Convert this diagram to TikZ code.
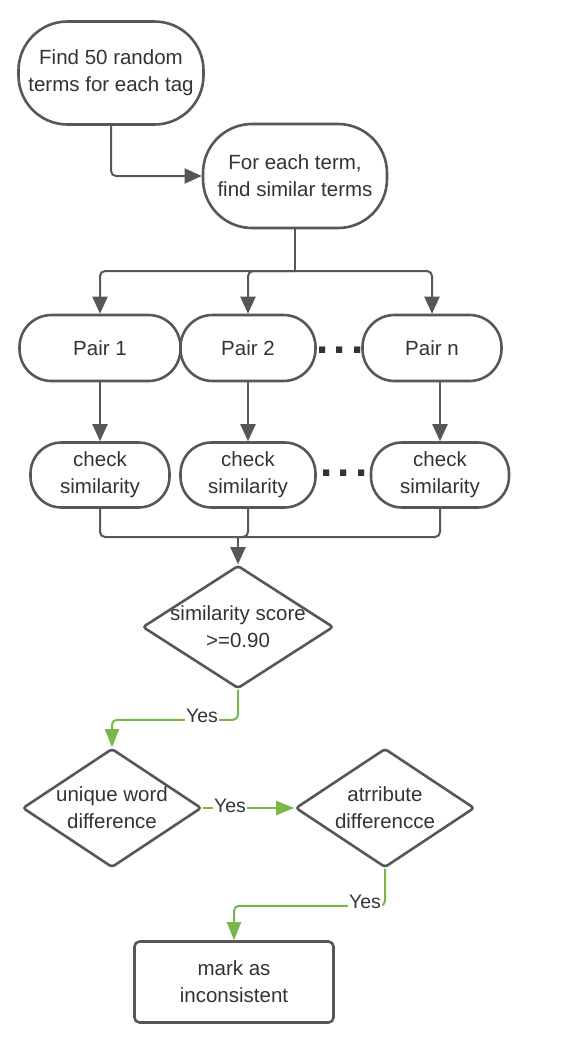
\documentclass[tikz,border=0pt]{standalone}
\usepackage{fontspec}
\setmainfont{Liberation Sans}
\usetikzlibrary{arrows.meta,shapes.geometric}
\definecolor{ln}{HTML}{575757}
\definecolor{grn}{HTML}{7AB648}
\definecolor{txt}{HTML}{333333}
\begin{document}
\begin{tikzpicture}[x=1pt,y=-1pt,
  every node/.style={font=\fontsize{20.5}{27}\selectfont, text=txt, align=center},
  stadium/.style={draw=ln, line width=2.6pt, rounded corners=#1, inner sep=0pt, fill=white},
  dec/.style={draw=ln, line width=2.6pt, diamond, inner sep=0pt, rounded corners=3pt, minimum width=#1},
  conn/.style={draw=ln, line width=2pt, rounded corners=5pt},
  arr/.style={conn, -{Triangle[length=17pt,width=15pt]}},
  garr/.style={draw=grn, line width=2pt, rounded corners=5pt, -{Triangle[length=18pt,width=14pt]}},
  lbl/.style={fill=white, inner sep=1pt, font=\fontsize{19.5}{22}\selectfont},
  dotsn/.style={font=\fontsize{44}{44}\selectfont\bfseries, inner sep=0pt}
]
\useasboundingbox (0,0) rectangle (582,1042);

% top nodes
\node[stadium=49pt, minimum width=185pt, minimum height=103pt] (find) at (111,73) {Find 50 random\\terms for each tag};
\node[stadium=49pt, minimum width=184pt, minimum height=104pt] (sim) at (295,176) {For each term,\\find similar terms};

% pairs
\node[stadium=32pt, minimum width=161pt, minimum height=66pt] (p1) at (100,348) {Pair 1};
\node[stadium=32pt, minimum width=135pt, minimum height=66pt] (p2) at (248,348) {Pair 2};
\node[stadium=32pt, minimum width=139pt, minimum height=66pt] (pn) at (432,348) {Pair n};
\node[dotsn] (dotsA) at (340,350) {.\hspace{5pt}.\hspace{5pt}.};

% check similarity
\node[stadium=31pt, minimum width=139pt, minimum height=65pt] (c1) at (100,475) {check\\similarity};
\node[stadium=31pt, minimum width=135pt, minimum height=65pt] (c2) at (248,475) {check\\similarity};
\node[stadium=31pt, minimum width=138pt, minimum height=65pt] (c3) at (440,475) {check\\similarity};
\node[dotsn] (dotsB) at (344,473) {.\hspace{5pt}.\hspace{5pt}.};

% decisions
\node[dec=191pt, minimum height=123pt] (d1) at (238,627) {};
\node (d1t) at (238,627) {similarity score\\>=0.90};
\node[dec=179pt, minimum height=119pt] (d2) at (112,808) {};
\node (d2t) at (112,808) {unique word\\difference};
\node[dec=179pt, minimum height=119pt] (d3) at (385,808) {};
\node (d3t) at (385,808) {atrribute\\differencce};

% final
\node[draw=ln, line width=2.6pt, rounded corners=5pt, minimum width=199pt, minimum height=81pt] (mark) at (234,982) {mark as\\inconsistent};

% connectors
\draw[arr] (find.south) |- (sim.west);
\coordinate (br) at (295,271);
\draw[conn] (sim.south) -- (br);
\draw[arr] (br) -| (p1.north);
\draw[arr] (br) -| (p2.north);
\draw[arr] (br) -| (pn.north);

\draw[arr] (p1.south) -- (c1.north);
\draw[arr] (p2.south) -- (c2.north);
\draw[arr] (c3.north |- pn.south) -- (c3.north);

\coordinate (mg) at (238,537);
\draw[conn] (c1.south) |- (mg);
\draw[conn] (c2.south) |- (mg);
\draw[conn] (c3.south) |- (mg);
\draw[arr] (mg) -- (d1.north);

\draw[garr] (d1.south) -- ++(0,30) -| (d2.north);
\node[lbl] (y1) at (202,716) {Yes};
\draw[garr] (d2.east) -- (d3.west);
\node[lbl] (y2) at (230,806) {Yes};
\draw[garr] (d3.south) -- ++(0,37) -| (mark.north);
\node[lbl] (y3) at (365,902) {Yes};
\end{tikzpicture}
\end{document}
